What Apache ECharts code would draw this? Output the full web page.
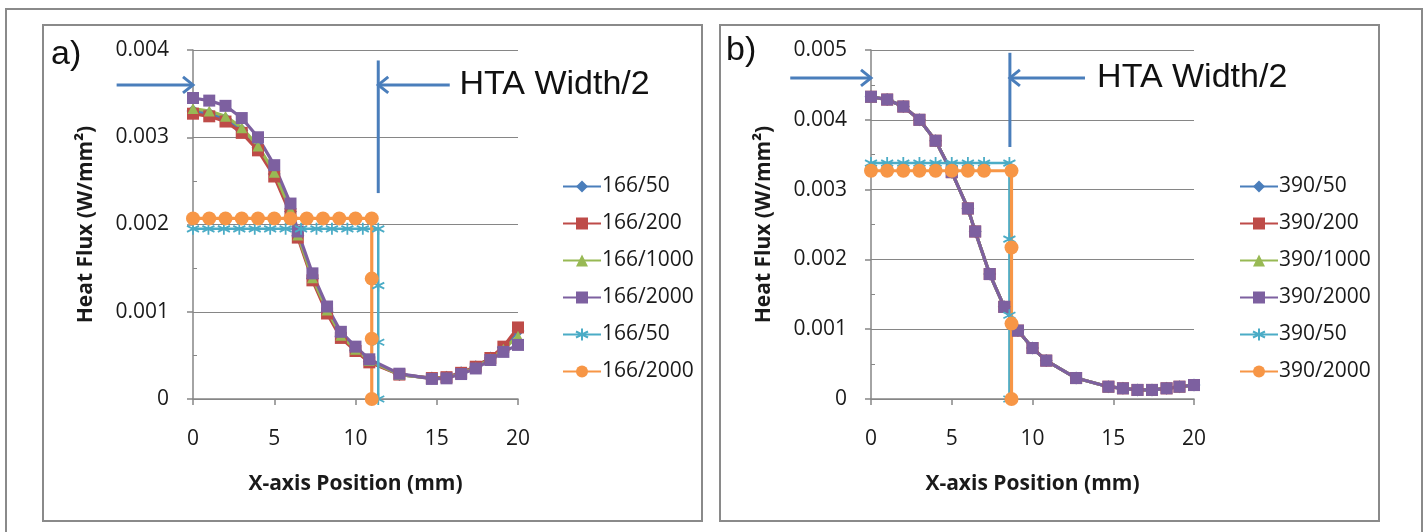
<!DOCTYPE html>
<html>
<head>
<meta charset="UTF-8">
<title>Heat Flux profiles</title>
<script src="https://cdn.jsdelivr.net/npm/echarts@6/dist/echarts.min.js"></script>
<style>
    html, body { margin: 0; padding: 0; background: #fff; }
    #chart { width: 1425px; height: 532px; }
</style>
</head>
<body>
<div id="chart"></div>
<script>
// x positions of the mesh nodes (mm), shared by the profile series
const xMesh = [0, 1, 2, 3, 4, 5, 6, 6.45, 7.35, 8.25, 9.1, 10, 10.85, 12.7, 14.7, 15.6, 16.5, 17.4, 18.3, 19.1, 20];

// panel a) heat flux (W/mm2)
const a50   = [0.00330, 0.00327, 0.00321, 0.00308, 0.00288, 0.00258, 0.00215, 0.00187, 0.00138, 0.00100, 0.00072, 0.00056, 0.00043, 0.00028, 0.00024, 0.00025, 0.00030, 0.00037, 0.00047, 0.00059, 0.00078];
const a200  = [0.00327, 0.00324, 0.00318, 0.00305, 0.00285, 0.00255, 0.00212, 0.00185, 0.00136, 0.00098, 0.00070, 0.00055, 0.00042, 0.00028, 0.00024, 0.00025, 0.00030, 0.00037, 0.00047, 0.00060, 0.00082];
const a1000 = [0.00333, 0.00330, 0.00324, 0.00311, 0.00290, 0.00260, 0.00217, 0.00188, 0.00139, 0.00102, 0.00073, 0.00057, 0.00044, 0.00028, 0.000235, 0.000245, 0.00029, 0.00036, 0.00046, 0.00057, 0.00072];
const a2000 = [0.00345, 0.00342, 0.00336, 0.00322, 0.00300, 0.00268, 0.00224, 0.00192, 0.00144, 0.00106, 0.00077, 0.00060, 0.000455, 0.00029, 0.00023, 0.000237, 0.000286, 0.00035, 0.000447, 0.00054, 0.00062];
const aFlatX50   = [0, 0.95, 1.9, 2.85, 3.8, 4.75, 5.7, 6.65, 7.6, 8.55, 9.5, 10.45, 11.4, 11.4, 11.4, 11.4];
const aFlatY50   = [0.00195, 0.00195, 0.00195, 0.00195, 0.00195, 0.00195, 0.00195, 0.00195, 0.00195, 0.00195, 0.00195, 0.00195, 0.00195, 0.0013, 0.00065, 0];
const aFlatX2000 = [0, 1, 2, 3, 4, 5, 6, 7, 8, 9, 10, 11, 11, 11, 11];
const aFlatY2000 = [0.00207, 0.00207, 0.00207, 0.00207, 0.00207, 0.00207, 0.00207, 0.00207, 0.00207, 0.00207, 0.00207, 0.00207, 0.00138, 0.00069, 0];

// panel b) heat flux (W/mm2) - the four profiles lie on top of each other
const bProfile = [0.00433, 0.00429, 0.00419, 0.00400, 0.00370, 0.00325, 0.00273, 0.00240, 0.00179, 0.00132, 0.00098, 0.00073, 0.00055, 0.00030, 0.000176, 0.000153, 0.00013, 0.00013, 0.000153, 0.000176, 0.00020];
const bFlatX50   = [0, 1, 2, 3, 4, 5, 6, 7, 8.57, 8.57, 8.57, 8.57];
const bFlatY50   = [0.00338, 0.00338, 0.00338, 0.00338, 0.00338, 0.00338, 0.00338, 0.00338, 0.00338, 0.00229, 0.00120, 0];
const bFlatX2000 = [0, 1, 2, 3, 4, 5, 6, 7, 8.7, 8.7, 8.7, 8.7];
const bFlatY2000 = [0.00327, 0.00327, 0.00327, 0.00327, 0.00327, 0.00327, 0.00327, 0.00327, 0.00327, 0.00217, 0.00108, 0];

const labelsA = ['166/50', '166/200', '166/1000', '166/2000', '166/50', '166/2000'];
const labelsB = ['390/50', '390/200', '390/1000', '390/2000', '390/50', '390/2000'];

// annotation: half width of the HTA and the height of the arrows
const htaA = 11.4, htaB = 8.6;

const colors = ['#4A7EBB', '#BE4B48', '#98B954', '#7D60A0', '#4BACC6', '#F79646'];
const symbols = ['diamond', 'rect', 'triangle', 'rect', 'path://M5 0L5 10M0.7 2.5L9.3 7.5M0.7 7.5L9.3 2.5', 'circle'];
const symbolSizes = [13, 12, 11, 12, 12, 14];

const FONT = 'Open Sans';
const axisGray = '#868686';

function pairs(xs, ys) {
    return xs.map((x, i) => [x, ys[i]]);
}

function makeSeries(key, k, grid, data) {
    return {
        name: key,
        type: 'line',
        xAxisIndex: grid,
        yAxisIndex: grid * 2,
        data: data,
        symbol: symbols[k],
        symbolSize: symbolSizes[k],
        showSymbol: true,
        animation: false,
        lineStyle: { color: colors[k], width: k === 4 ? 2.5 : 3.2 },
        itemStyle: {
            color: colors[k],
            borderColor: colors[k],
            borderWidth: k === 4 ? 1.8 : 0
        }
    };
}

function xAxis(grid) {
    return {
        gridIndex: grid, type: 'value', min: 0, max: 20, interval: 5,
        axisLine: { lineStyle: { color: axisGray, width: 1.5 } },
        axisTick: { length: 6, lineStyle: { color: axisGray, width: 1.5 } },
        splitLine: { show: false },
        axisLabel: { margin: 30, fontSize: 21, color: '#1a1a1a', fontFamily: FONT },
        name: 'X-axis Position (mm)', nameLocation: 'middle', nameGap: 75,
        nameTextStyle: { fontSize: 21, fontWeight: 'bold', color: '#1a1a1a', fontFamily: FONT }
    };
}

function yAxes(grid, max) {
    return [{
        gridIndex: grid, type: 'value', min: 0, max: max, interval: 0.001,
        axisLine: { show: true, lineStyle: { color: axisGray, width: 1.5 } },
        axisTick: { show: true, length: 6, lineStyle: { color: axisGray, width: 1.5 } },
        splitLine: { lineStyle: { color: axisGray, width: 1.2 } },
        axisLabel: {
            margin: 24, fontSize: 21, color: '#1a1a1a', fontFamily: FONT,
            formatter: v => String(+v.toFixed(3))
        },
        name: 'Heat Flux (W/mm²)', nameLocation: 'middle', nameGap: 96,
        nameTextStyle: { fontSize: 21, fontWeight: 'bold', color: '#1a1a1a', fontFamily: FONT }
    }, {
        gridIndex: grid, type: 'value', min: 0, max: max, interval: 0.0005, position: 'left',
        axisLine: { show: false },
        axisTick: { show: true, inside: true, length: 4, lineStyle: { color: axisGray } },
        axisLabel: { show: false },
        splitLine: { show: false }
    }];
}

const namesA = labelsA.map((l, i) => 'a' + i);
const namesB = labelsB.map((l, i) => 'b' + i);
const labelOf = {};
namesA.forEach((n, i) => { labelOf[n] = labelsA[i]; });
namesB.forEach((n, i) => { labelOf[n] = labelsB[i]; });

const series = [
    makeSeries('a0', 0, 0, pairs(xMesh, a50)),
    makeSeries('a1', 1, 0, pairs(xMesh, a200)),
    makeSeries('a2', 2, 0, pairs(xMesh, a1000)),
    makeSeries('a3', 3, 0, pairs(xMesh, a2000)),
    makeSeries('a4', 4, 0, pairs(aFlatX50, aFlatY50)),
    makeSeries('a5', 5, 0, pairs(aFlatX2000, aFlatY2000)),
    makeSeries('b0', 0, 1, pairs(xMesh, bProfile)),
    makeSeries('b1', 1, 1, pairs(xMesh, bProfile)),
    makeSeries('b2', 2, 1, pairs(xMesh, bProfile)),
    makeSeries('b3', 3, 1, pairs(xMesh, bProfile)),
    makeSeries('b4', 4, 1, pairs(bFlatX50, bFlatY50)),
    makeSeries('b5', 5, 1, pairs(bFlatX2000, bFlatY2000))
];

function legend(names, left) {
    return {
        data: names, left: left, top: 171, orient: 'vertical',
        itemGap: 16, itemWidth: 38, itemHeight: 15,
        formatter: n => labelOf[n],
        textStyle: { fontSize: 21, color: '#1a1a1a', fontFamily: FONT, padding: [0, 0, 0, -4] }
    };
}

const myChart = echarts.init(document.getElementById('chart'), null, { renderer: 'canvas' });

myChart.setOption({
    backgroundColor: '#fff',
    animation: false,
    grid: [
        { left: 193, top: 50, width: 325, height: 349 },
        { left: 871, top: 50, width: 323, height: 349 }
    ],
    xAxis: [xAxis(0), xAxis(1)],
    yAxis: yAxes(0, 0.004).concat(yAxes(1, 0.005)),
    legend: [legend(namesA, 557), legend(namesB, 1234)],
    series: series
});

// arrows and frames
const blue = '#4A7EBB';
function arrow(grid, x1, x2, y) {
    const p1 = myChart.convertToPixel({ gridIndex: grid }, [x1, y]);
    const p2 = myChart.convertToPixel({ gridIndex: grid }, [x2, y]);
    const dir = p2[0] > p1[0] ? 1 : -1;
    return [{
        type: 'line', shape: { x1: p1[0], y1: p1[1], x2: p2[0], y2: p2[1] },
        style: { stroke: blue, lineWidth: 3 }, z: 100
    }, {
        type: 'polyline',
        shape: { points: [[p2[0] - 10 * dir, p2[1] - 8], [p2[0], p2[1]], [p2[0] - 10 * dir, p2[1] + 8]] },
        style: { stroke: blue, lineWidth: 3, fill: null }, z: 100
    }];
}
function vline(grid, x, y1, y2) {
    const p1 = myChart.convertToPixel({ gridIndex: grid }, [x, y1]);
    const p2 = myChart.convertToPixel({ gridIndex: grid }, [x, y2]);
    return {
        type: 'line', shape: { x1: p1[0], y1: p1[1], x2: p2[0], y2: p2[1] },
        style: { stroke: blue, lineWidth: 3 }, z: 100
    };
}
function note(grid, x, y, text) {
    const p = myChart.convertToPixel({ gridIndex: grid }, [x, y]);
    return {
        type: 'text', x: p[0], y: p[1], z: 100,
        style: { text: text, fill: '#111', font: '34px "Liberation Sans", Arial, sans-serif', verticalAlign: 'middle' }
    };
}
function frame(x, y, w, h) {
    return {
        type: 'rect', shape: { x: x, y: y, width: w, height: h },
        style: { stroke: '#8a8a8a', lineWidth: 2, fill: null }, z: 0
    };
}
function label(x, y, text) {
    return {
        type: 'text', x: x, y: y,
        style: { text: text, fill: '#111', font: '34px "Liberation Sans", Arial, sans-serif', verticalAlign: 'middle' }
    };
}

let graphic = [
    frame(6, 9, 1416, 540),
    frame(43, 25, 659, 496),
    frame(720, 25, 659, 496),
    label(51, 55, 'a)'),
    label(726, 51, 'b)')
];
graphic = graphic.concat(
    arrow(0, -4.7, 0, 0.0036),
    arrow(0, 15.8, htaA, 0.0036),
    [vline(0, htaA, 0.00388, 0.00236), note(0, 16.4, 0.0036, 'HTA Width/2')],
    arrow(1, -5.0, 0, 0.0046),
    arrow(1, 13.25, htaB, 0.0046),
    [vline(1, htaB, 0.00496, 0.00361), note(1, 14.0, 0.0046, 'HTA Width/2')]
);

myChart.setOption({ graphic: graphic });
</script>
</body>
</html>
